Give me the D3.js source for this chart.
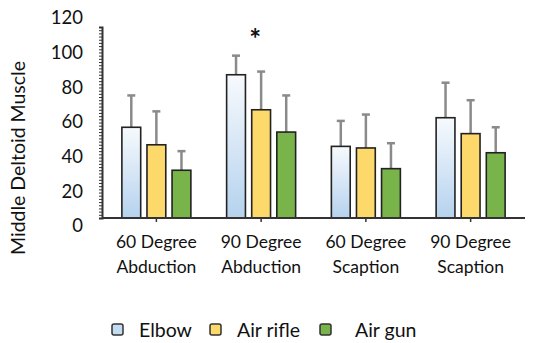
<!DOCTYPE html>
<html lang="en">
<head>
<meta charset="UTF-8">
<title>Middle Deltoid Muscle</title>
<script src="https://d3js.org/d3.v7.min.js"></script>
<style>
    body { margin: 0; background: #fff; }
    text { font-family: Lato, 'Open Sans', sans-serif; fill: #111; }
</style>
</head>
<body>
<svg id="chart" width="539" height="343"></svg>
<script>
    // data
    let groups = ["60 Degree|Abduction", "90 Degree|Abduction", "60 Degree|Scaption", "90 Degree|Scaption"];
    let series = ["Elbow", "Air rifle", "Air gun"];
    let elbow    = [57, 90, 45, 63];
    let airRifle = [46, 68, 44, 53];
    let airGun   = [30, 54, 31, 41];
    let elbowSd    = [20, 12, 16, 22];
    let airRifleSd = [21, 24, 21, 21];
    let airGunSd   = [12, 23, 16, 16];
    let yTicks = [0, 20, 40, 60, 80, 100, 120];

    let svg = d3.select("#chart");

    let y = d3.scaleLinear().domain([0, 120]).range([218, 27]);
    // tick labels sit on a slightly stretched grid in the original
    let yLabel = d3.scaleLinear().domain([0, 120]).range([226, 18]);
    let x0 = d3.scaleBand().domain(groups).range([104, 523]);
    let x1 = d3.scaleBand().domain(series).range([0, 69]).paddingInner(0.25);

    let values = [elbow, airRifle, airGun];
    let sds = [elbowSd, airRifleSd, airGunSd];
    let fills = ["url(#elbowGrad)", "#fdd96b", "#78b44a"];
    let legendFills = ["#c4dcf2", "#fdd96b", "#78b44a"];

    let defs = svg.append("defs");
    let grad = defs.append("linearGradient")
        .attr("id", "elbowGrad")
        .attr("x1", 0).attr("y1", 0).attr("x2", 0).attr("y2", 1);
    grad.append("stop").attr("offset", "0%").attr("stop-color", "#f7fafd");
    grad.append("stop").attr("offset", "100%").attr("stop-color", "#b5d2ee");

    let rows = [];
    groups.forEach((g, i) => {
        series.forEach((s, j) => {
            rows.push({group: g, series: s, si: j, value: values[j][i], sd: sds[j][i]});
        });
    });

    // error bars (behind bars)
    let cx = d => x0(d.group) + x0.bandwidth() / 2 - 34.5 + x1(d.series) + x1.bandwidth() / 2;
    let err = svg.append("g");
    err.selectAll("line.v")
        .data(rows).enter().append("line")
        .attr("x1", cx).attr("x2", cx)
        .attr("y1", d => y(d.value)).attr("y2", d => y(d.value + d.sd))
        .attr("stroke", "#8a8a8a").attr("stroke-width", 2.5);
    err.selectAll("line.c")
        .data(rows).enter().append("line")
        .attr("x1", d => cx(d) - 4).attr("x2", d => cx(d) + 4)
        .attr("y1", d => y(d.value + d.sd)).attr("y2", d => y(d.value + d.sd))
        .attr("stroke", "#8a8a8a").attr("stroke-width", 2.5);

    // bars
    svg.append("g").selectAll("rect")
        .data(rows).enter().append("rect")
        .attr("x", d => cx(d) - x1.bandwidth() / 2)
        .attr("y", d => y(d.value))
        .attr("width", x1.bandwidth())
        .attr("height", d => y(0) - y(d.value))
        .attr("fill", d => fills[d.si])
        .attr("stroke", "#222")
        .attr("stroke-width", 1.6);

    // y axis: minor ticks every 2
    let yAxis = svg.append("g").attr("transform", "translate(102,0)")
        .call(d3.axisLeft(y).tickValues(d3.range(0, 121, 2)).tickSize(3).tickFormat(""));
    yAxis.select(".domain").attr("stroke", "#333").attr("stroke-width", 2);
    yAxis.selectAll(".tick line").attr("stroke", "#333").attr("stroke-width", 1);

    svg.append("g").selectAll("text")
        .data(yTicks).enter().append("text")
        .attr("x", 83)
        .attr("y", d => yLabel(d))
        .attr("dy", "0.35em")
        .attr("text-anchor", "end")
        .style("font-size", "18.5px")
        .text(d => d);

    // x axis
    let xAxis = svg.append("g").attr("transform", "translate(0,218)")
        .call(d3.axisBottom(x0).tickSize(4).tickSizeOuter(0).tickFormat(""));
    xAxis.select(".domain").attr("d", "M102,0H525").attr("stroke", "#333").attr("stroke-width", 2);
    xAxis.selectAll(".tick line").attr("stroke", "#333").attr("stroke-width", 1.5);

    let xl = svg.append("g").selectAll("text")
        .data(groups).enter().append("text")
        .attr("x", d => x0(d) + x0.bandwidth() / 2)
        .attr("y", 248)
        .attr("text-anchor", "middle")
        .style("font-size", "17.5px");
    xl.append("tspan").attr("x", d => x0(d) + x0.bandwidth() / 2).text(d => d.split("|")[0]);
    xl.append("tspan").attr("x", d => x0(d) + x0.bandwidth() / 2).attr("dy", 25).text(d => d.split("|")[1]);

    // significance marker
    svg.append("text")
        .attr("x", x0(groups[1]) + x0.bandwidth() / 2 - 6)
        .attr("y", 49)
        .attr("text-anchor", "middle")
        .style("font-size", "28px")
        .style("font-weight", "bold")
        .text("*");

    // y axis title
    svg.append("text")
        .attr("transform", "translate(25,158) rotate(-90)")
        .attr("text-anchor", "middle")
        .style("font-size", "19.5px")
        .text("Middle Deltoid Muscle");

    // legend
    let legendX = [112, 210, 320];
    let lg = svg.append("g").selectAll("g")
        .data(series).enter().append("g")
        .attr("transform", (d, i) => "translate(" + legendX[i] + ",324)");
    lg.append("rect")
        .attr("width", 11).attr("height", 11).attr("rx", 2)
        .attr("fill", (d, i) => legendFills[i])
        .attr("stroke", "#333").attr("stroke-width", 1.5);
    lg.append("text")
        .attr("x", (d, i) => i == 2 ? 35 : 27)
        .attr("y", 6)
        .attr("dy", "0.35em")
        .style("font-size", "19.5px")
        .text(d => d);
</script>
</body>
</html>
